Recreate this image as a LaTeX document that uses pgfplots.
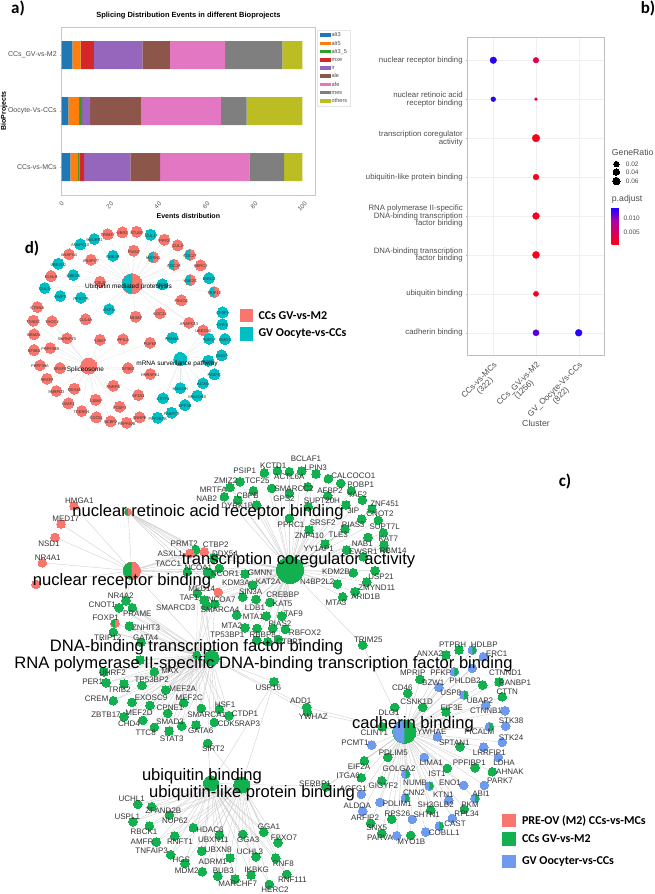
\documentclass[border=0pt]{standalone}
\usepackage{fontspec}
\setmainfont{Liberation Sans}
\newfontfamily\carl{Carlito}
\usepackage{pgfplots}
\usepackage{pgfplotstable}
\pgfplotsset{compat=1.18}
\newcommand{\fs}[1]{\fontsize{#1}{#1}\selectfont}
\definecolor{cred}{HTML}{F8766D}
\definecolor{cteal}{HTML}{00BFC4}
\definecolor{cgreen}{HTML}{12B04F}
\definecolor{cblue}{HTML}{6E9BF0}
\definecolor{txt}{HTML}{4D4D4D}
\pgfdeclareplotmark{halfl}{\pgfpathmoveto{\pgfqpoint{0pt}{\pgfplotmarksize}}\pgfpatharc{90}{270}{\pgfplotmarksize}\pgfpathclose\pgfusepathqfill}
\pgfdeclareplotmark{halfr}{\pgfpathmoveto{\pgfqpoint{0pt}{\pgfplotmarksize}}\pgfpatharc{90}{-90}{\pgfplotmarksize}\pgfpathclose\pgfusepathqfill}
\pgfplotsset{
  pxaxis/.style={at={(0,0)}, anchor=south west, scale only axis, width=655pt, height=894pt,
    xmin=0, xmax=655, ymin=0, ymax=894, y dir=reverse, hide axis, clip=false},
  edge/.style={draw=gray!40, line width=0.35pt, mark=none, forget plot},
  fedge/.style={draw=gray!18, line width=0.35pt, mark=none, forget plot},
  dot/.style 2 args={only marks, mark=*, mark size=#1, mark options={draw=#2, fill=#2, line width=0pt}, forget plot},
  half/.style n args={3}{only marks, mark=#1, mark size=#2, mark options={draw=#3, fill=#3, line width=0pt}, forget plot},
  sq/.style={only marks, mark=square*, mark size=6.1, mark options={draw=#1, fill=#1, line width=0pt}, forget plot},
  lab/.style={only marks, mark=none, forget plot, point meta=explicit symbolic, nodes near coords,
    nodes near coords style={anchor=center, inner sep=0pt, font=\fs{#1}, text=black!80}},
}
% panel d: x y label
\pgfplotstableread{
x y label
107.7 234.3 TRIM37
122.3 232.3 UBR2
136.7 231.7 STUB1
164.3 239.7 PPP2
177.7 245.3 CUL2
200.7 265.3 HERC2
203 330.3 UBE2D3
181.3 300.3 FBXO4
133.7 250.7 PIAS2
91 259.7 ANAPC7
69 254.3 ANAPC4
51 276 KLHL9
100 281.7 CBLB
85.7 319.3 CUL4A
135.7 316.7 MDM2
160 313.3 CDC23
189 322.7 ANAPC13
}\dUbqRed
\pgfplotstableread{
x y label
150.7 234.7 CUL1
94.3 239 SMURF1
80.3 244.3 ANAPC10
113 255.7 UBE2B
58.3 263.7 UBE2D2
73.3 275 UBE2N
44.7 288 CUL5
60.3 296 RNF7
81 297.7 RPS27A
162.3 284.3 UBE3A
109 309.3 SKP1
209 278 BIRC2
}\dUbqTeal
\pgfplotstableread{
x y label
190 254.7 CDC27
214.3 292 TRIP12
190.3 280 UBE2C
174 264.7 CDC16
153.3 257.3 MGRN1
}\dUbqSplit
\pgfplotstableread{
x y label
150 342.7 PUF60
123 339.3 PPIL2
100 339.7 LSM7
67 338.3 SNRNP70
52 321.3 THOC2
33.3 320.7 TXNDC
37.3 307 CTNNA
34 334.3 RBM25
34 350 SF3B1
50.3 348 PRPF38B
40 365.3 PRPF39A
60 368 SRSF5
47 378.7 SRSF2
56.3 391 SNRPD3
74.3 388.7 DDX46
128 368 SF3B2
150.3 374 HNRNPA1
113.3 385.7 SNRPB
138.3 395 SF3A1
68.3 403.3 U2AF1
95.7 399.7 LSM4
81.7 411 TCERG1
96.3 417.3 CDC5L
119.7 406.7 PCBP1
110.7 421.3 NCBP2
126.7 422.7 PRPF40B
139.7 417.3 SNRPE
}\dSpl
\pgfplotstableread{
x y label
172.3 337.7 RBM8A
222.7 312.3 CPSF1
222.3 324.3 UPF1
225 339 SMG1
209 338.7 NXF1
221.7 355.3 SMG7
208.3 360.7 ETF1
214.3 374.3 PABPC
203 383.3 ACIN1
197.3 395.7 MAGOHB
180.3 388 MAGOH
163 398.3 CSTF3
185 405 UPF3B
171.7 412.7 PABPC2
157.7 417.7 PPP2R1B
}\dMrna
% panel c: x y lx ly label
\pgfplotstableread{
x y lx ly label
301.7 471 306 458.7 BCLAF1
316 474 315.7 467.3 LPIN3
277.3 470.7 273.3 465.7 KCTD1
264.3 472.7 244.7 471 PSIP1
289.3 471.7 289.3 476.7 ACTL6A
240 481.7 225.7 480.7 ZMIZ2
253.3 490.7 257.3 480.7 TCF25
328.3 478.7 353.3 476 CALCOCO1
340.7 483.3 360.7 485 POBP1
230 487.3 213.3 489.3 MRTFA
307.7 486.7 294 489 SMARCC2
271.7 488.3 271.7 488.3 {}
327.7 495.7 330 490.7 AFBP2
362.3 500 357.3 495 YAF2
351.3 490.7 351.3 490.7 {}
224.3 496.7 206.7 498.3 NAB2
237.7 500 247.7 495.7 CBPB
289.3 493.3 284 498.7 GPS2
308.3 506.7 322 500.7 SUPT20H
256.7 505 237.3 505.7 DYRK1B
372 509 384.7 504 ZNF451
346 505 353.3 510.7 {3IP}
378.3 520.3 380 514 CNOT2
289.3 518.3 291 524.7 PPRC1
345 529 322.7 522.7 SRSF2
361.7 519 353.3 524.7 PIAS3
383.3 532.7 384.7 526.7 SUPT7L
309 530 309.3 535.3 ZNF410
346.7 550 338.3 535 TLE3
384 545 388.3 538.3 KAT7
368 537.3 362.3 543.3 NAB1
325 544 318.7 549 YY1AP1
363.3 556.7 363.3 552 EWSR1
384 548 393.3 551 RBM14
353.3 572.7 336 571.7 KDM2B
375 570.7 381 576.7 USP21
337.3 584 317.3 581.3 N4BP2L2
366.7 582 376.7 587.3 ZMYND11
355 591.7 365.7 596.7 ARID1B
342.7 596.7 336 602.3 MTA3
245 574 260 572.7 GMNN
252.7 585 268.3 582 KAT2A
242.7 597 250.7 591.7 SIN3A
256 599.3 282.7 595 CREBBP
270 602.3 282.7 604 KAT5
236.7 615 255 607.7 LDB1
281.7 616 293.3 613.3 TAF9
266.3 616 253.3 616.7 MTA1
245 627.7 231.7 625.7 MTA2
257 628.3 280 623.3 PIAS2
285.3 629.3 305 632.7 RBFOX2
272.7 628.3 262.7 634.7 RBBP8
256.7 640 227.3 635 TP53BP1
278.3 639.3 289.3 641.3 CTBP1
267.7 641.7 267.7 641.7 {}
}\cCoreg
\pgfplotstableread{
x y lx ly label
195.7 550 184.3 544 PRMT2
187.3 571.7 168.3 563.3 TACC1
207.3 571.7 198.3 567.3 NCOA1
219.3 568.3 225 573.3 NCOR1
211 574 236 582.7 KDM3A
214 558 225 553.7 DDX54
}\cNrCo
\pgfplotstableread{
x y lx ly label
197.3 593.3 189 597.7 TAF1
204 600 221.7 599.3 NCOA7
214.7 604 220 609.3 SMARCA4
206 606 175.7 607.3 SMARCD3
}\cShared
\pgfplotstableread{
x y lx ly label
204.3 551.7 215.7 545 CTBP2
190 553.3 170 553.7 ASXL1
218.3 592.3 201.7 588.3 MED14
}\cRedCentre
\pgfplotstableread{
x y lx ly label
74 506 79.3 501 HMGA1
61 524 65.7 518.7 MED17
55 537.3 49 543.3 NSD1
42.3 562.7 47.7 557.3 NR4A1
}\cNrRed
\pgfplotstableread{
x y lx ly label
126 600.7 120.7 595.7 NR4A2
119 607.7 102.3 605 CNOT1
132.3 607.7 137.3 613.3 PRAME
129.3 626 146 627.7 ZNHIT3
113.3 632.3 107.7 637.7 TRIP12
141 642.3 145.7 637.7 GATA4
140 660 140 660 {}
154.3 671.7 170 671 MAX
104 672 112.5 672.7 UHRF2
106 682.7 92.7 681.7 PER1
124 684 119.3 689.3 TRIB2
142 685.3 151.7 680 TP53BP2
165.7 690 182.7 688.3 MEF2A
113.3 700.7 96.7 699 CREM
132 702.3 151 698 EXOSC9
183.7 702.7 189.3 697.3 MEF2C
150 705.3 170 707.3 CPNE1
219.3 709.3 225 704.3 HSF1
201.3 708.3 206.7 714.3 SMARCA1
229 715.7 245 713.3 CTDP1
167.7 713.3 139 712.7 MEF2D
124 716.7 106 714.7 ZBTB17
142.7 720.3 129 723.3 CHD4
181.7 726 170 721.3 SMAD3
214.3 722.3 239 723.7 CDK5RAP3
196 725 200.7 730.7 GATA6
154.3 727.3 145.7 732.3 TTC8
169 731 171.7 738.3 STAT3
}\cDna
\pgfplotstableread{
x y lx ly label
137.7 804.3 131.7 799 UCHL1
151.7 806.7 163.3 810.7 ZFAND2B
169.3 815 175 820.7 NUP62
133 821.7 127.3 816.3 USPL1
149.3 826 144 832 RBCK1
193.3 827.7 210 830 HDAC6
219.3 835 213.3 839.7 UBXN11
242.7 834.3 248.3 840 GGA3
263.7 832 269 826.7 GGA1
278 842.7 284 837.7 FBXO7
174.7 836 180 841.3 RNFT1
156.3 842 142 841.7 AMFR
170.7 854.7 151.7 850.7 TNFAIP3
201.7 851 218.3 849.7 UBXN8
256 856.7 250 851.7 UCHL3
230 858 212.7 861.3 ADRM1
275.7 858 283.3 863.3 RNF8
185 863.3 181.3 860 HGS
202.3 871.7 186.7 871 MDM2
217.7 876 223.3 871 BUB3
251 875 256.7 870 IKBKG
286.7 874.3 292.3 880 RNF111
235 879 237.7 884 MARCHF7
269.3 884.3 275 890 HERC2
}\cUbq
\pgfplotstableread{
x y lx ly label
207.7 743.3 213.3 749 SIRT2
274 681.7 268.3 687.3 USP16
}\cDnaUbq
\pgfplotstableread{
x y lx ly label
306.7 707.3 300.7 701 ADD1
307.3 711.7 313.3 716.3 YWHAZ
}\cDnaCad
\pgfplotstableread{
x y lx ly label
459 650 452.7 644.3 PTPRH
446 655 430 653.3 ANXA2
420 679.3 412.7 672.7 MPRIP
482.7 685 465 681 PHLDB2
499 682 515 682.7 RANBP1
407.7 693.3 402.3 688 CD46
502.3 696.7 507.3 691.7 CTTN
422.7 707.3 416.7 701.7 CSNK1D
394.7 707.3 389 713 DLG1
446 712 451.7 707.3 EIF3E
382.3 726.7 374.3 732.7 CLINT1
460 746.7 454.3 742.3 SPTAN1
492.3 771.7 510 771.7 AHNAK
475 767.7 469.3 762.3 PPFIBP1
387.7 757.3 393.3 752.3 PDLIM5
364.3 760.7 359 766.7 EIF2A
447.3 768.3 437 773.3 IST1
361.3 777.7 348.3 775.7 ITGA6
381.7 780.7 383.3 786 GIGYF2
464.3 809.3 470 804.3 PKM
430.7 810 435.7 805 SH3GLB2
391.7 819 397.3 813.7 RPS26
370.7 823.3 365 818 ARFIP2
381.7 833.3 376.7 827.7 SNX5
410.7 835.3 411.3 841.7 MYO1B
326 786.7 315 784 SERBP1
}\cCadG
\pgfplotstableread{
x y lx ly label
483.3 656.7 496.7 654 ERC1
472.3 668.3 505.3 672.7 CTNND1
439 687.3 433.3 682.7 BZW1
485.7 705 480 700.7 UBAP2
505 710.7 486 710.7 CTNNB1
505.7 726 511 721 STK38
437.3 736.7 431.7 731.3 YWHAE
371.7 745 355 742.3 PCMT1
502.3 742.3 511 737.3 STK24
483.7 747 489.3 752.7 LRRFIP1
498.3 757.3 504 762.7 LDHA
484.3 785.3 500 781 PARK7
424.3 757.3 431.3 762.7 LIMA1
463.7 785.3 450 782.7 ENO1
448.7 800 443.3 795 KTN1
361.3 794.3 353.3 789 AGFG1
380 802.3 397.3 803.7 PDLIM1
362.7 811 357.3 806 ALDOA
412.3 819.3 426.7 815 SHTN1
452.3 818.3 466.7 814 RPL34
425.7 832 444.3 832.7 COBLL1
396.7 835.7 380 837.3 PARVA
}\cCadB
\pgfplotstableread{
x y lx ly label
472.3 650 484.3 644.3 HDLBP
454.3 671.7 440.7 672.7 PFKP
464 695 450.7 692.3 USP8
489.3 726.7 479.3 732 PICALM
405.7 774 399 769 GOLGA2
429.3 786 415 782.7 NUMB
475 798.3 481 793.3 ABI1
405.3 798 414 792.7 CNN2
439.3 826 455 824 CAST
}\cCadS
% panel b: cluster, term, radius, p.adjust
\pgfplotstableread{
x y r c
1 8 3.3 0.0135
2 8 2.8 0.0035
1 7 2.4 0.0135
2 7 1.5 0.0025
2 6 3.8 0.0008
2 5 2.9 0.0008
2 4 3.4 0.0008
2 3 3.5 0.0008
2 2 2.6 0.0010
2 1 3.1 0.0120
3 1 3.4 0.0135
}\bDots
\pgfplotsset{colormap={padj}{rgb255=(255,0,20) rgb255=(215,0,90) rgb255=(170,0,170) rgb255=(30,0,255)}}

\begin{document}
\begin{tikzpicture}
\useasboundingbox (0,0) rectangle (655pt,894pt);
% networks, drawn in the picture's own pixels
\begin{axis}[pxaxis]
  %% panel d
  \addplot[fedge, quiver={u=132-\thisrow{x}, v=283.7-\thisrow{y}}] table[x=x,y=y] {\dUbqRed};
  \addplot[fedge, quiver={u=132-\thisrow{x}, v=283.7-\thisrow{y}}] table[x=x,y=y] {\dUbqTeal};
  \addplot[fedge, quiver={u=132-\thisrow{x}, v=283.7-\thisrow{y}}] table[x=x,y=y] {\dUbqSplit};
  \addplot[fedge, quiver={u=88.7-\thisrow{x}, v=366-\thisrow{y}}] table[x=x,y=y] {\dSpl};
  \addplot[fedge, quiver={u=180.3-\thisrow{x}, v=359-\thisrow{y}}] table[x=x,y=y] {\dMrna};
  \addplot[dot={5.5}{cred}] table[x=x,y=y] {\dUbqRed};
  \addplot[dot={5.5}{cred}] table[x=x,y=y] {\dSpl};
  \addplot[dot={5.5}{cteal}] table[x=x,y=y] {\dUbqTeal};
  \addplot[dot={5.5}{cteal}] table[x=x,y=y] {\dMrna};
  \addplot[dot={5.5}{cred}] table[x=x,y=y] {\dUbqSplit};
  \addplot[half={halfl}{5.5}{cteal}] table[x=x,y=y] {\dUbqSplit};
  \addplot[dot={10}{cred}] coordinates {(132,283.7)};
  \addplot[half={halfl}{10}{cteal}] coordinates {(132,283.7)};
  \addplot[dot={8}{cred}] coordinates {(88.7,366)};
  \addplot[dot={6.5}{cteal}] coordinates {(180.3,359)};
  % legend of d
  \addplot[sq=cred] coordinates {(246.2,315.8)};
  \addplot[sq=cteal] coordinates {(246.2,334)};

  %% panel c, edges
  \addplot[edge, quiver={u=290-\thisrow{x}, v=570-\thisrow{y}}] table[x=x,y=y] {\cCoreg};
  \addplot[edge, quiver={u=290-\thisrow{x}, v=570-\thisrow{y}}] table[x=x,y=y] {\cNrCo};
  \addplot[edge, quiver={u=131.7-\thisrow{x}, v=570.7-\thisrow{y}}] table[x=x,y=y] {\cNrCo};
  \addplot[edge, quiver={u=128-\thisrow{x}, v=512-\thisrow{y}}] table[x=x,y=y] {\cNrCo};
  \addplot[edge, quiver={u=290-\thisrow{x}, v=570-\thisrow{y}}] table[x=x,y=y] {\cShared};
  \addplot[edge, quiver={u=211.7-\thisrow{x}, v=658-\thisrow{y}}] table[x=x,y=y] {\cShared};
  \addplot[edge, quiver={u=196.7-\thisrow{x}, v=655-\thisrow{y}}] table[x=x,y=y] {\cShared};
  \addplot[edge, quiver={u=290-\thisrow{x}, v=570-\thisrow{y}}] table[x=x,y=y] {\cRedCentre};
  \addplot[edge, quiver={u=131.7-\thisrow{x}, v=570.7-\thisrow{y}}] table[x=x,y=y] {\cRedCentre};
  \addplot[edge, quiver={u=128-\thisrow{x}, v=512-\thisrow{y}}] table[x=x,y=y] {\cRedCentre};
  \addplot[edge, quiver={u=131.7-\thisrow{x}, v=570.7-\thisrow{y}}] table[x=x,y=y] {\cNrRed};
  \addplot[edge, quiver={u=211.7-\thisrow{x}, v=658-\thisrow{y}}] table[x=x,y=y] {\cDna};
  \addplot[edge, quiver={u=196.7-\thisrow{x}, v=655-\thisrow{y}}] table[x=x,y=y] {\cDna};
  \addplot[edge, quiver={u=211-\thisrow{x}, v=783.3-\thisrow{y}}] table[x=x,y=y] {\cUbq};
  \addplot[edge, quiver={u=241.7-\thisrow{x}, v=785-\thisrow{y}}] table[x=x,y=y] {\cUbq};
  \addplot[edge, quiver={u=211.7-\thisrow{x}, v=658-\thisrow{y}}] table[x=x,y=y] {\cDnaUbq};
  \addplot[edge, quiver={u=211-\thisrow{x}, v=783.3-\thisrow{y}}] table[x=x,y=y] {\cDnaUbq};
  \addplot[edge, quiver={u=241.7-\thisrow{x}, v=785-\thisrow{y}}] table[x=x,y=y] {\cDnaUbq};
  \addplot[edge, quiver={u=211.7-\thisrow{x}, v=658-\thisrow{y}}] table[x=x,y=y] {\cDnaCad};
  \addplot[edge, quiver={u=404.3-\thisrow{x}, v=731.7-\thisrow{y}}] table[x=x,y=y] {\cDnaCad};
  \addplot[edge, quiver={u=404.3-\thisrow{x}, v=731.7-\thisrow{y}}] table[x=x,y=y] {\cCadG};
  \addplot[edge, quiver={u=404.3-\thisrow{x}, v=731.7-\thisrow{y}}] table[x=x,y=y] {\cCadB};
  \addplot[edge, quiver={u=404.3-\thisrow{x}, v=731.7-\thisrow{y}}] table[x=x,y=y] {\cCadS};
  \addplot[edge] coordinates {(290,570) (362.7,645) (404.3,731.7)};
  \addplot[edge] coordinates {(128,512) (131.7,570.7) (211.7,658)};
  \addplot[edge] coordinates {(131.7,570.7) (126,600.7)};
  \addplot[edge] coordinates {(131.7,570.7) (36,584.3)};
  \addplot[edge] coordinates {(131.7,570.7) (115,623.3) (211.7,658)};
  \addplot[edge] coordinates {(211,783.3) (326,786.7) (404.3,731.7)};
  %% panel c, nodes
  \addplot[dot={4.3}{cgreen}] table[x=x,y=y] {\cCoreg};
  \addplot[dot={4.3}{cgreen}] table[x=x,y=y] {\cNrCo};
  \addplot[dot={4.3}{cgreen}] table[x=x,y=y] {\cShared};
  \addplot[dot={4.3}{cgreen}] table[x=x,y=y] {\cDna};
  \addplot[dot={4.3}{cgreen}] table[x=x,y=y] {\cUbq};
  \addplot[dot={4.3}{cgreen}] table[x=x,y=y] {\cDnaUbq};
  \addplot[dot={4.3}{cgreen}] table[x=x,y=y] {\cDnaCad};
  \addplot[dot={4.3}{cgreen}] table[x=x,y=y] {\cCadG};
  \addplot[dot={4.3}{cblue}] table[x=x,y=y] {\cCadB};
  \addplot[dot={4.3}{cblue}] table[x=x,y=y] {\cCadS};
  \addplot[half={halfr}{4.3}{cgreen}] table[x=x,y=y] {\cCadS};
  \addplot[dot={4.3}{cred}] table[x=x,y=y] {\cRedCentre};
  \addplot[dot={4.3}{cred}] table[x=x,y=y] {\cNrRed};
  \addplot[dot={4.3}{cgreen}] coordinates {(362.7,645)};
  \addplot[dot={4.3}{cred}] coordinates {(36,584.3)};
  \addplot[dot={4.3}{cred}] coordinates {(115,623.3)};
  \addplot[half={halfl}{4.3}{cgreen}] coordinates {(115,623.3)};
  % hubs
  \addplot[dot={13.5}{cgreen}] coordinates {(290,570)};
  \addplot[dot={3.5}{cred}] coordinates {(128,512)};
  \addplot[half={halfl}{3.5}{cgreen}] coordinates {(128,512)};
  \addplot[dot={8.7}{cred}] coordinates {(131.7,570.7)};
  \addplot[half={halfl}{8.7}{cgreen}] coordinates {(131.7,570.7)};
  \addplot[dot={4}{cgreen}] coordinates {(196.7,655)};
  \addplot[dot={7.5}{cgreen}] coordinates {(211.7,658)};
  \addplot[dot={7.5}{cgreen}] coordinates {(211,783.3)};
  \addplot[dot={8}{cgreen}] coordinates {(241.7,785)};
  \addplot[dot={11.7}{cgreen}] coordinates {(404.3,731.7)};
  \addplot[half={halfl}{11.7}{cblue}] coordinates {(404.3,731.7)};
  % legend of c
  \addplot[sq=cred] coordinates {(509,820.5)};
  \addplot[sq=cgreen] coordinates {(509,839)};
  \addplot[sq=cblue] coordinates {(509,861.5)};
  % legend of b, sizes
  \addplot[dot={2.7}{black}] coordinates {(616.3,164)};
  \addplot[dot={3.2}{black}] coordinates {(616.3,172)};
  \addplot[dot={3.7}{black}] coordinates {(616.3,181)};
\end{axis}

% all the text of the networks, on top of the marks
\begin{axis}[pxaxis]
  \addplot[lab=4] table[x=x,y expr=\thisrow{y}+1,meta=label] {\dUbqRed};
  \addplot[lab=4] table[x=x,y expr=\thisrow{y}+1,meta=label] {\dUbqTeal};
  \addplot[lab=4] table[x=x,y expr=\thisrow{y}+1,meta=label] {\dUbqSplit};
  \addplot[lab=4] table[x=x,y expr=\thisrow{y}+1,meta=label] {\dSpl};
  \addplot[lab=4] table[x=x,y expr=\thisrow{y}+1,meta=label] {\dMrna};
  \addplot[lab=8] table[x=lx,y=ly,meta=label] {\cCoreg};
  \addplot[lab=8] table[x=lx,y=ly,meta=label] {\cNrCo};
  \addplot[lab=8] table[x=lx,y=ly,meta=label] {\cShared};
  \addplot[lab=8] table[x=lx,y=ly,meta=label] {\cRedCentre};
  \addplot[lab=8] table[x=lx,y=ly,meta=label] {\cNrRed};
  \addplot[lab=8] table[x=lx,y=ly,meta=label] {\cDna};
  \addplot[lab=8] table[x=lx,y=ly,meta=label] {\cUbq};
  \addplot[lab=8] table[x=lx,y=ly,meta=label] {\cDnaUbq};
  \addplot[lab=8] table[x=lx,y=ly,meta=label] {\cDnaCad};
  \addplot[lab=8] table[x=lx,y=ly,meta=label] {\cCadG};
  \addplot[lab=8] table[x=lx,y=ly,meta=label] {\cCadB};
  \addplot[lab=8] table[x=lx,y=ly,meta=label] {\cCadS};
  \node[font=\fs{6.5}] at (axis cs:128.5,286.7) {Ubiquitin mediated proteolysis};
  \node[font=\fs{6.5}] at (axis cs:85.5,369.5) {Spliceosome};
  \node[font=\fs{6.5}] at (axis cs:177,363.5) {mRNA surveillance pathway};
  \node[anchor=west, font=\carl\bfseries\fs{12}] at (axis cs:255,316) {CCs GV-vs-M2};
  \node[anchor=west, font=\carl\bfseries\fs{12}] at (axis cs:255,334) {GV Oocyte-vs-CCs};
  \node[font=\fs{8},text=black!80] at (axis cs:105.7,618) {FOXP1};
  \node[font=\fs{8},text=black!80] at (axis cs:368.3,639.3) {TRIM25};
  \node[font=\fs{16.6}] at (axis cs:208,512) {nuclear retinoic acid receptor binding};
  \node[font=\fs{16.6}] at (axis cs:298.5,560) {transcription coregulator activity};
  \node[font=\fs{16.6}] at (axis cs:122,581) {nuclear receptor binding};
  \node[font=\fs{16.6}] at (axis cs:196.5,647.7) {DNA-binding transcription factor binding};
  \node[font=\fs{16.6}] at (axis cs:263.5,664) {RNA polymerase II-specific DNA-binding transcription factor binding};
  \node[font=\fs{16.6}] at (axis cs:202,776) {ubiquitin binding};
  \node[font=\fs{16.6}] at (axis cs:252,793) {ubiquitin-like protein binding};
  \node[font=\fs{16.6}] at (axis cs:413,724) {cadherin binding};
  \node[anchor=west, font=\carl\bfseries\fs{12}] at (axis cs:518.5,820.7) {PRE-OV (M2) CCs-vs-MCs};
  \node[anchor=west, font=\carl\bfseries\fs{12}] at (axis cs:518.5,838.7) {CCs GV-vs-M2};
  \node[anchor=west, font=\carl\bfseries\fs{12}] at (axis cs:518.5,861) {GV Oocyter-vs-CCs};
  \node[anchor=west, inner sep=0pt, font=\fs{8.7}, text=txt] at (axis cs:611.7,152) {GeneRatio};
  \node[anchor=west, inner sep=0pt, font=\fs{6.5}, text=txt] at (axis cs:625.7,164) {0.02};
  \node[anchor=west, inner sep=0pt, font=\fs{6.5}, text=txt] at (axis cs:625.7,172) {0.04};
  \node[anchor=west, inner sep=0pt, font=\fs{6.5}, text=txt] at (axis cs:625.7,181) {0.06};
  \node[anchor=west, inner sep=0pt, font=\fs{8.7}, text=txt] at (axis cs:611.7,199.5) {p.adjust};
  \node[font=\carl\bfseries\fs{17}] at (axis cs:18,8) {a)};
  \node[font=\carl\bfseries\fs{17}] at (axis cs:648,8) {b)};
  \node[font=\carl\bfseries\fs{17}] at (axis cs:565,481) {c)};
  \node[font=\carl\bfseries\fs{17}] at (axis cs:32,248) {d)};
\end{axis}

%% panel a
\begin{axis}[at={(61.7pt,699pt)}, anchor=south west, scale only axis, width=253.3pt, height=167.7pt,
  xbar stacked, bar width=28pt, xmin=0, xmax=105.3, ymin=-0.5, ymax=2.5,
  axis line style={draw=gray!45, line width=0.8pt},
  xtick={0,20,40,60,80,100}, ytick={0,1,2},
  yticklabels={CCs-vs-MCs,Oocyte-Vs-CCs,CCs\_GV-vs-M2},
  tick style={draw=gray!60}, major tick length=1.5pt, tick align=outside, xtick pos=lower, ytick pos=left,
  xticklabel style={rotate=45, font=\fs{6.2}, text=txt, /pgf/number format/assume math mode=true},
  yticklabel style={font=\fs{7}, text=txt},
  title={Splicing Distribution Events in different Bioprojects},
  title style={font=\bfseries\fs{7.5}, at={(0.5,1)}, anchor=south, yshift=-1.5pt},
  xlabel={Events distribution}, ylabel={BioProjects},
  every axis x label/.style={at={(axis description cs:0.5,-0.125)}, anchor=center, font=\bfseries\fs{7}},
  every axis y label/.style={at={(axis description cs:-0.228,0.5)}, rotate=90, anchor=center, font=\bfseries\fs{7}},
  legend style={at={(axis description cs:1.008,0.984)}, anchor=north west, draw=gray!20, font=\fs{5.6}, text=txt,
    row sep=2pt, nodes={inner sep=0.4pt, text height=4.4pt, text depth=1pt}},
  legend cell align=left,
  legend image code/.code={\fill[#1] (0pt,-1.8pt) rectangle (11pt,1.8pt);},
  ]
  \addplot[draw=none, fill={rgb,255:red,31;green,119;blue,180}] coordinates {(4.4,2) (2.8,1) (3.6,0)};
  \addplot[draw=none, fill={rgb,255:red,255;green,127;blue,14}] coordinates {(3.5,2) (4.4,1) (3.2,0)};
  \addplot[draw=none, fill={rgb,255:red,44;green,160;blue,44}] coordinates {(0.1,2) (1.2,1) (0.6,0)};
  \addplot[draw=none, fill={rgb,255:red,214;green,39;blue,40}] coordinates {(5.4,2) (0.1,1) (1.9,0)};
  \addplot[draw=none, fill={rgb,255:red,148;green,103;blue,189}] coordinates {(20.1,2) (3.3,1) (19.3,0)};
  \addplot[draw=none, fill={rgb,255:red,140;green,86;blue,75}] coordinates {(11.5,2) (21.3,1) (12.3,0)};
  \addplot[draw=none, fill={rgb,255:red,227;green,119;blue,194}] coordinates {(22.9,2) (33.1,1) (37.1,0)};
  \addplot[draw=none, fill={rgb,255:red,127;green,127;blue,127}] coordinates {(23.8,2) (10.7,1) (14.5,0)};
  \addplot[draw=none, fill={rgb,255:red,188;green,189;blue,34}] coordinates {(8.3,2) (23.1,1) (7.5,0)};
  \legend{alt3,alt5,alt3\_5,mxe,ir,ale,afe,mes,others}
\end{axis}

%% panel b
\begin{axis}[at={(467.7pt,539pt)}, anchor=south west, scale only axis, width=136.6pt, height=317.7pt,
  xmin=0.4, xmax=3.6, ymin=0.43, ymax=8.59,
  axis line style={draw=gray!50, line width=0.6pt},
  grid=major, grid style={draw=gray!12, line width=0.3pt},
  xtick={1,2,3}, ytick={1,2,3,4,5,6,7,8},
  xticklabels={{CCs-vs-MCs\\(322)},{CCs\_GV-vs-M2\\(1256)},{GV\_Oocyte-Vs-CCs\\(822)}},
  yticklabels={cadherin binding,ubiquitin binding,{DNA-binding transcription\\factor binding},
    {RNA polymerase II-specific\\DNA-binding transcription\\factor binding},ubiquitin-like protein binding,
    {transcription coregulator\\activity},{nuclear retinoic acid\\receptor binding},nuclear receptor binding},
  tick style={draw=gray!60}, major tick length=1.5pt, tick align=outside, xtick pos=lower, ytick pos=left,
  xticklabel style={rotate=45, anchor=north east, align=center, font=\fs{8.2}, text=txt},
  yticklabel style={align=right, font=\fs{7.8}, text=txt},
  xlabel={Cluster},
  every axis x label/.style={at={(axis description cs:0.5,-0.214)}, anchor=center, font=\fs{8.7}, text=txt},
  colormap name=padj, point meta min=0.0003, point meta max=0.0139,
  colorbar, colorbar style={at={(1.054,0.4627)}, anchor=north west, width=7.3pt, height=37pt,
    scale only axis, ytick={0.005,0.01}, scaled y ticks=false, axis line style={draw=none}, major tick length=0pt,
    yticklabel style={font=\fs{6.5}, text=txt, xshift=1pt, /pgf/number format/.cd, fixed, fixed zerofill, precision=3, assume math mode=true}},
  ]
  \addplot[scatter, only marks, mark=*, scatter src=\thisrow{c},
    visualization depends on={\thisrow{r}\as\rad},
    scatter/use mapped color={draw=mapped color, fill=mapped color},
    scatter/@pre marker code/.append style={/tikz/mark size=\rad}]
    table[x=x,y=y] {\bDots};
\end{axis}
\end{tikzpicture}
\end{document}
